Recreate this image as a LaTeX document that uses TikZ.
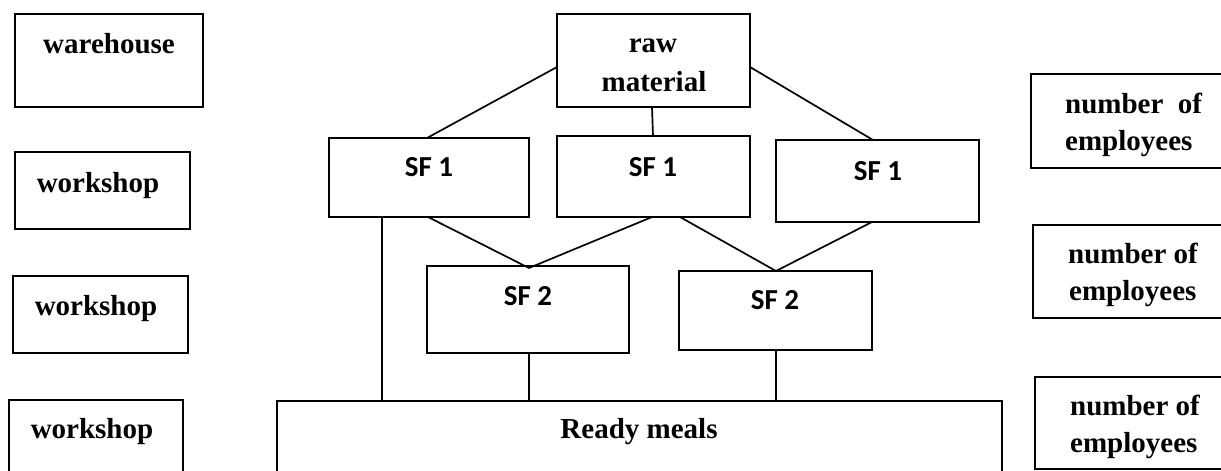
\documentclass[tikz,border=0pt]{standalone}
\usepackage{fontspec}
\setmainfont{Liberation Serif}
\newfontfamily\sffont{Carlito}
\usetikzlibrary{calc}
\begin{document}
\begin{tikzpicture}[x=1pt,y=-1pt,
  box/.style={draw,line width=1.7pt,inner sep=0pt,outer sep=0pt,anchor=north west},
  conn/.style={line width=1.7pt},
  lbl/.style={inner sep=0pt,anchor=base,font=\bfseries\fontsize{29}{35}\selectfont},
  sflbl/.style={inner sep=0pt,anchor=base,font=\sffont\bfseries\fontsize{29}{35}\selectfont},
  emp/.style={inner sep=0pt,anchor=base west,font=\bfseries\fontsize{29}{35}\selectfont}]
\useasboundingbox (0,0) rectangle (1221,471);
% left column
\node[box,minimum width=188pt,minimum height=93pt] (wh) at (15,14) {};
\node[box,minimum width=175pt,minimum height=77pt] (ws1) at (15,152) {};
\node[box,minimum width=175pt,minimum height=77pt] (ws2) at (13,276) {};
\node[box,minimum width=174pt,minimum height=95pt] (ws3) at (9,400) {};
\node[lbl] (twh) at (109,53) {warehouse};
\node[lbl] (tws1) at (98,192) {workshop};
\node[lbl] (tws2) at (96,315) {workshop};
\node[lbl] (tws3) at (92,438) {workshop};
% centre
\node[box,minimum width=193pt,minimum height=93pt] (raw) at (557,14) {};
\node[lbl] (traw1) at (653,52) {raw};
\node[lbl] (traw2) at (654,91) {material};
\node[box,minimum width=200pt,minimum height=79pt] (sf1a) at (329,138) {};
\node[box,minimum width=193pt,minimum height=81pt] (sf1b) at (557,136) {};
\node[box,minimum width=203pt,minimum height=82pt] (sf1c) at (776,140) {};
\node[sflbl] (tsf1a) at (429,176) {SF 1};
\node[sflbl] (tsf1b) at (653,176) {SF 1};
\node[sflbl] (tsf1c) at (878,180) {SF 1};
\node[box,minimum width=202pt,minimum height=87pt] (sf2a) at (427,266) {};
\node[box,minimum width=193pt,minimum height=79pt] (sf2b) at (679,271) {};
\node[sflbl] (tsf2a) at (528,305) {SF 2};
\node[sflbl] (tsf2b) at (775,309) {SF 2};
\node[box,minimum width=725pt,minimum height=95pt] (ready) at (277,401) {};
\node[lbl] (tready) at (639,438) {Ready meals};
% right column
\node[box,minimum width=196pt,minimum height=94pt] (ne1) at (1031,74) {};
\node[box,minimum width=194pt,minimum height=93pt] (ne2) at (1033,225) {};
\node[box,minimum width=192pt,minimum height=92pt] (ne3) at (1035,377) {};
\node[emp] (tne1a) at (1065,113) {number\ \ of};
\node[emp] (tne1b) at (1065,150) {employees};
\node[emp] (tne2a) at (1068,263) {number of};
\node[emp] (tne2b) at (1069,300) {employees};
\node[emp] (tne3a) at (1070,415) {number of};
\node[emp] (tne3b) at (1070,452) {employees};
% connection points
\coordinate (apexA) at ($(sf2a.north west)+(102,2)$);
\coordinate (apexB) at ($(sf2b.north west)+(97,0)$);
\coordinate (sfaDown) at ($(sf1a.south west)+(53,0)$);
\coordinate (sf2aDown) at ($(sf2a.south west)+(102,0)$);
\coordinate (sf2bDown) at ($(sf2b.south west)+(97,0)$);
% connectors
\draw[conn] ($(raw.north west)+(0,53)$) -- ($(sf1a.north west)+(98,0)$);
\draw[conn] ($(raw.south west)+(95,0)$) -- ($(sf1b.north west)+(96,0)$);
\draw[conn] ($(raw.north east)+(0,53)$) -- ($(sf1c.north west)+(97,0)$);
\draw[conn] (sfaDown) -- (sfaDown |- ready.north);
\draw[conn] ($(sf1a.south west)+(99,0)$) -- (apexA);
\draw[conn] ($(sf1b.south west)+(95,0)$) -- (apexA);
\draw[conn] ($(sf1b.south west)+(123,0)$) -- (apexB);
\draw[conn] ($(sf1c.south west)+(96,0)$) -- (apexB);
\draw[conn] (sf2aDown) -- (sf2aDown |- ready.north);
\draw[conn] (sf2bDown) -- (sf2bDown |- ready.north);
\end{tikzpicture}
\end{document}
